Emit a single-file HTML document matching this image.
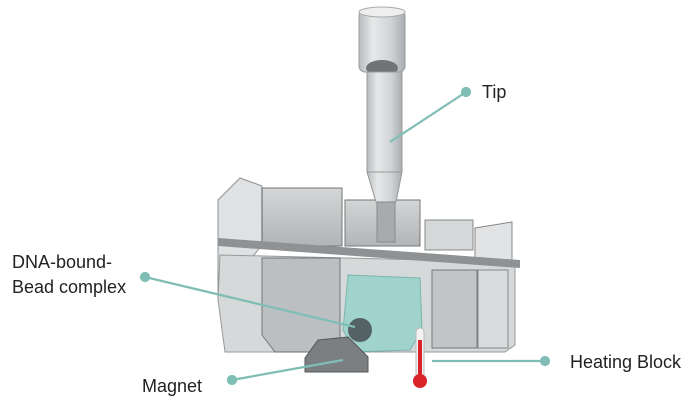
<!DOCTYPE html>
<html><head><style>html,body{margin:0;padding:0;background:#fff;width:700px;height:409px;overflow:hidden}
text{font-family:"Liberation Sans",sans-serif;fill:#222;font-size:18px}</style></head><body>
<svg width="700" height="409" viewBox="0 0 700 409" xmlns="http://www.w3.org/2000/svg">
<defs>
<linearGradient id="tube" x1="0" x2="1"><stop offset="0" stop-color="#b8bcbe"/><stop offset=".3" stop-color="#e6e8e9"/><stop offset=".7" stop-color="#d0d3d5"/><stop offset="1" stop-color="#a9adb0"/></linearGradient>
<linearGradient id="box" x1="0" y1="0" x2="0" y2="1"><stop offset="0" stop-color="#c9cccd"/><stop offset="1" stop-color="#9fa3a6"/></linearGradient>
</defs>
<polygon points="218,200 240,178 262,186 262,245 218,300" fill="#dfe1e2" stroke="#8d9194"/>
<rect x="262" y="188" width="80" height="58" fill="url(#box)" stroke="#555" opacity=".8"/>
<rect x="345" y="200" width="75" height="46" fill="url(#box)" stroke="#555" opacity=".8"/>
<rect x="425" y="220" width="48" height="30" fill="#d5d8d9" stroke="#888"/>
<polygon points="475,228 512,222 512,270 475,270" fill="#e1e3e4" stroke="#888"/>
<polygon points="220,255 515,262 515,345 505,352 225,352 218,300" fill="#d6d9da" stroke="#999"/>
<polygon points="262,258 340,258 340,340 320,352 275,352 262,335" fill="#b7bbbd" stroke="#666" opacity=".85"/>
<rect x="432" y="270" width="45" height="78" fill="#c2c5c7" stroke="#777"/>
<rect x="478" y="270" width="30" height="78" fill="#d9dbdc" stroke="#888"/>
<polygon points="218,238 520,260 520,268 218,246" fill="#8e9295"/>
<polygon points="348,275 420,278 422,330 410,350 355,352 343,330" fill="#8fd2c8" stroke="#5da99e" opacity=".75"/>
<ellipse cx="360" cy="330" rx="12" ry="12" fill="#546165"/>
<polygon points="318,340 348,337 368,357 368,372 305,372 305,358" fill="#7b7f82" stroke="#555"/>
<rect x="359" y="10" width="46" height="62" rx="6" fill="url(#tube)" stroke="#999"/>
<ellipse cx="382" cy="12" rx="23" ry="5" fill="#eee" stroke="#aaa"/>
<ellipse cx="382" cy="68" rx="16" ry="8" fill="#707477"/>
<rect x="367" y="72" width="35" height="100" fill="url(#tube)" stroke="#999"/>
<polygon points="367,172 402,172 396,202 376,202" fill="url(#tube)" stroke="#999"/>
<rect x="377" y="202" width="18" height="40" fill="#a7abae" stroke="#888"/>
<rect x="416" y="328" width="8" height="50" rx="4" fill="#f2f2f2" stroke="#bbb"/>
<rect x="418" y="340" width="4" height="38" fill="#d9252a"/>
<circle cx="420" cy="381" r="7" fill="#d9252a"/>
<g stroke="#7fbdb5" stroke-width="2.2" fill="#7fbdb5">
<line x1="466" y1="92" x2="390" y2="142"/><circle cx="466" cy="92" r="4"/>
<line x1="145" y1="277" x2="355" y2="327"/><circle cx="145" cy="277" r="4"/>
<line x1="232" y1="380" x2="343" y2="360"/><circle cx="232" cy="380" r="4"/>
<line x1="432" y1="361" x2="545" y2="361"/><circle cx="545" cy="361" r="4"/>
</g>
<text x="482" y="98">Tip</text>
<text x="12" y="268">DNA-bound-</text>
<text x="12" y="293">Bead complex</text>
<text x="142" y="392">Magnet</text>
<text x="570" y="368">Heating Block</text>
</svg>
</body></html>
